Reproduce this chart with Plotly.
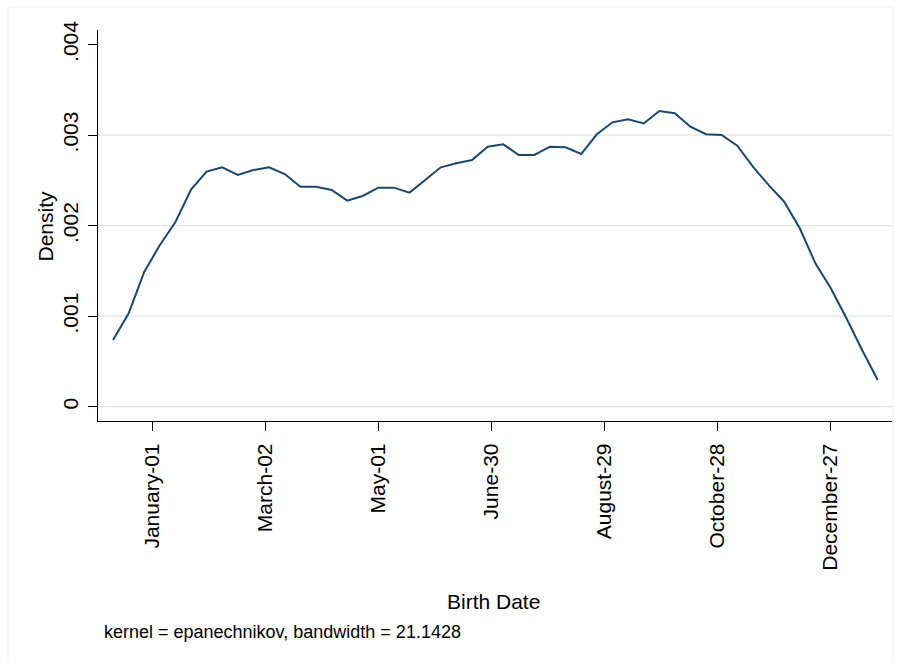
import plotly.graph_objects as go

# ---- data ----
birth_day = [-20.9, -12.6, -4.3, 4.0, 12.3, 20.6, 28.8, 37.1, 45.4, 53.7,
             62.0, 70.3, 78.6, 86.9, 95.2, 103.5, 111.7, 120.0, 128.3, 136.6,
             144.9, 153.2, 161.5, 169.8, 178.1, 186.4, 194.6, 202.9, 211.2, 219.5,
             227.8, 236.1, 244.4, 252.7, 261.0, 269.3, 277.5, 285.8, 294.1, 302.4,
             310.7, 319.0, 327.3, 335.6, 343.9, 352.2, 360.4, 368.7, 377.0, 385.3]
density = [0.000737, 0.001032, 0.001492, 0.001787, 0.002044, 0.002402, 0.002597, 0.002645, 0.002560, 0.002615,
           0.002645, 0.002571, 0.002431, 0.002431, 0.002394, 0.002276, 0.002328, 0.002420, 0.002420, 0.002365,
           0.002505, 0.002645, 0.002690, 0.002726, 0.002873, 0.002899, 0.002781, 0.002781, 0.002873, 0.002866,
           0.002792, 0.003010, 0.003142, 0.003175, 0.003130, 0.003267, 0.003242, 0.003094, 0.003010, 0.003002,
           0.002884, 0.002652, 0.002450, 0.002265, 0.001971, 0.001584, 0.001308, 0.000977, 0.000627, 0.000295]

x_tick_vals = [0, 60, 120, 180, 240, 300, 360]
x_tick_text = ["January-01", "March-02", "May-01", "June-30", "August-29", "October-28", "December-27"]
y_tick_vals = [0, 0.001, 0.002, 0.003, 0.004]
y_tick_text = ["0", ".001", ".002", ".003", ".004"]
grid_vals = [0, 0.001, 0.002, 0.003]

x_title = "Birth Date"
y_title = "Density"
note = "kernel = epanechnikov, bandwidth = 21.1428"

FONT = "Liberation Sans, Arial, Helvetica, sans-serif"
LINE_COLOR = "#1a476f"
GRID_COLOR = "#dde7ee"

fig = go.Figure()
fig.add_trace(go.Scatter(x=birth_day, y=density, mode="lines",
                         line=dict(color=LINE_COLOR, width=2), showlegend=False,
                         hoverinfo="skip"))

shapes = []
for g in grid_vals:
    shapes.append(dict(type="line", xref="paper", yref="y", x0=0, x1=1, y0=g, y1=g,
                       line=dict(color=GRID_COLOR, width=1.2), layer="below"))
# light outer graph-region border
shapes.append(dict(type="rect", xref="paper", yref="paper",
                   x0=-0.1134, x1=1.0013, y0=-0.64, y1=1.0588,
                   line=dict(color="#eef1f3", width=1.2), fillcolor="rgba(0,0,0,0)", layer="below"))

fig.update_layout(
    width=901, height=663,
    margin=dict(l=98, r=9, t=30, b=242),
    paper_bgcolor="white", plot_bgcolor="white",
    font=dict(family=FONT, color="black"),
    shapes=shapes,
    xaxis=dict(range=[-28.9, 392.9], tickvals=x_tick_vals, ticktext=x_tick_text,
               tickangle=-90, showgrid=False, zeroline=False,
               showline=True, linecolor="black", linewidth=1.2,
               ticks="outside", ticklen=9, tickcolor="black", tickwidth=1.2,
               tickfont=dict(family=FONT, size=21, color="black"),
               ticklabelstandoff=4),
    yaxis=dict(range=[-0.000158, 0.004162], tickvals=y_tick_vals, ticktext=y_tick_text,
               tickangle=-90, showgrid=False, zeroline=False,
               showline=True, linecolor="black", linewidth=1.2,
               ticks="outside", ticklen=9, tickcolor="black", tickwidth=1.2,
               tickfont=dict(family=FONT, size=21, color="black"),
               ticklabelstandoff=2),
    annotations=[
        dict(text=x_title, xref="paper", yref="paper", x=0.4987, y=-0.462,
             xanchor="center", yanchor="middle", showarrow=False,
             font=dict(family=FONT, size=21, color="black")),
        dict(text=y_title, xref="paper", yref="paper", x=-0.0655, y=0.5,
             xanchor="center", yanchor="middle", textangle=-90, showarrow=False,
             font=dict(family=FONT, size=21, color="black")),
        dict(text=note, xref="paper", yref="paper", x=0.005, y=-0.539,
             xanchor="left", yanchor="middle", showarrow=False,
             font=dict(family=FONT, size=18, color="black")),
    ],
)

fig.write_html("out.html")
